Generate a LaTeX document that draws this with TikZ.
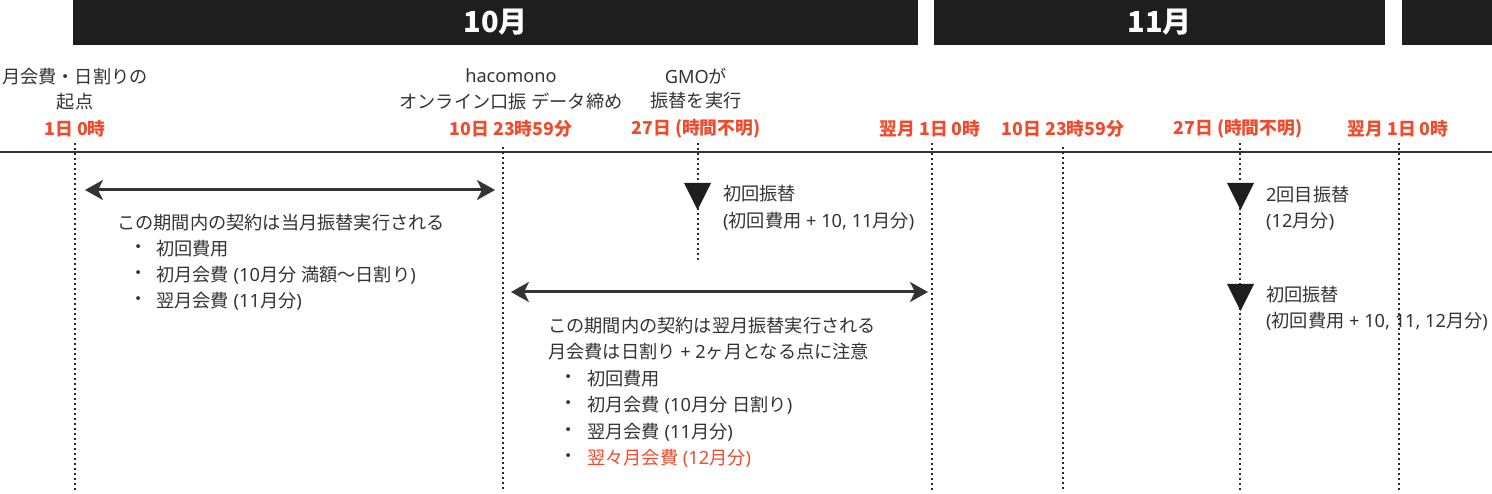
\documentclass[tikz,border=0pt]{standalone}
\usepackage{fontspec}
\setmainfont{Noto Sans CJK JP}
\newfontfamily\cjkf{Noto Sans CJK JP}
\newfontfamily\latf{Noto Sans}
\usetikzlibrary{arrows.meta}
\newXeTeXintercharclass\CJKcls
\makeatletter
\count@="3000
\loop\ifnum\count@<"A000 \XeTeXcharclass\count@=\CJKcls \advance\count@ by 1 \repeat
\count@="FF00
\loop\ifnum\count@<"FFF0 \XeTeXcharclass\count@=\CJKcls \advance\count@ by 1 \repeat
\makeatother
\XeTeXinterchartoks 0 \CJKcls = {\cjkf}
\XeTeXinterchartoks 4095 \CJKcls = {\cjkf}
\XeTeXinterchartoks \CJKcls 0 = {\latf}
\XeTeXinterchartoks \CJKcls 4095 = {\latf}
\newcommand\mixon{\XeTeXinterchartokenstate=1\relax}
\newcommand\lblfont{\fontsize{18.2}{22}\selectfont\latf\mixon}
\definecolor{barc}{HTML}{1E1E1E}
\definecolor{ink}{HTML}{333333}
\definecolor{accent}{HTML}{EE4C2C}
\tikzset{
  lbl/.style={font=\lblfont, text=ink, inner sep=0pt},
  redlbl/.style={font=\fontsize{17.8}{21}\selectfont\bfseries, text=accent, inner sep=0pt},
  monthbar/.style={fill=barc, minimum height=45pt, inner sep=0pt, text=white,
    font=\fontsize{29}{32}\selectfont\bfseries},
  guide/.style={draw=ink!80!black, line width=2pt, dash pattern=on 2pt off 3pt},
  spanarrow/.style={draw=ink, line width=3pt,
    {Stealth[length=18pt,width=20pt,inset=5pt]}-{Stealth[length=18pt,width=20pt,inset=5pt]}},
  marker/.style={fill=barc},
}
\begin{document}
\begin{tikzpicture}[x=1pt,y=-1pt]
\useasboundingbox (0,0) rectangle (1492,494);
% month bars
\node[monthbar, minimum width=845pt] (m10) at (495.5,22.5) {10月};
\node[monthbar, minimum width=451pt] (m11) at (1159.5,22.5) {11月};
\node[monthbar, minimum width=90pt] (m12) at (1447,22.5) {};
% top labels
\node[lbl] (l1a) at (75,77) {月会費・日割りの};
\node[lbl] (l1b) at (75,102) {起点};
\node[redlbl] (r1) at (75,129) {1日 0時};
\node[lbl] (l2a) at (511,76) {hacomono};
\node[lbl] (l2b) at (511,101) {オンライン口振 データ締め};
\node[redlbl] (r2) at (511,129) {10日 23時59分};
\node[lbl] (l3a) at (696,76) {GMOが};
\node[lbl] (l3b) at (696,101) {振替を実行};
\node[redlbl] (r3) at (696,129) {27日 (時間不明)};
\node[redlbl] (r4) at (930,129) {翌月 1日 0時};
\node[redlbl] (r5) at (1063,129) {10日 23時59分};
\node[redlbl] (r6) at (1238,129) {27日 (時間不明)};
\node[redlbl] (r7) at (1398,129) {翌月 1日 0時};
% timeline
\draw[ink, line width=2.5pt] (0,152) -- (1492,152);
% guides
\draw[guide] (75,143) -- (75,490);
\draw[guide] (503,147) -- (503,490);
\draw[guide] (697.5,143) -- (697.5,262);
\draw[guide] (932,143) -- (932,490);
\draw[guide] (1063,147) -- (1063,490);
\draw[guide] (1240,143) -- (1240,490);
\draw[guide] (1399,143) -- (1399,490);
% span arrows
\coordinate (a1s) at (85,190);
\coordinate (a1e) at (495,190);
\draw[spanarrow] (a1s) -- (a1e);
\coordinate (a2s) at (511,292);
\coordinate (a2e) at (928,292);
\draw[spanarrow] (a2s) -- (a2e);
% markers
\fill[marker] (684,183) -- (711,183) -- (697.5,210) -- cycle;
\fill[marker] (1227,183) -- (1254,183) -- (1240.5,210) -- cycle;
\fill[marker] (1227,284) -- (1254,284) -- (1240.5,311) -- cycle;
% marker texts
\node[lbl, anchor=west] (t1a) at (723,194) {初回振替};
\node[lbl, anchor=west] (t1b) at (723,221) {(初回費用 + 10, 11月分)};
\node[lbl, anchor=west] (t2a) at (1266,195) {2回目振替};
\node[lbl, anchor=west] (t2b) at (1266,221) {(12月分)};
\node[lbl, anchor=west] (t3a) at (1266,295) {初回振替};
\node[lbl, anchor=west] (t3b) at (1266,321) {(初回費用 + 10, 11, 12月分)};
% block 1
\node[lbl, anchor=west] (p1h) at (117,223) {この期間内の契約は当月振替実行される};
\node[lbl] (p1b1) at (139,249) {・};
\node[lbl, anchor=west] (p1t1) at (156,249) {初回費用};
\node[lbl] (p1b2) at (139,275) {・};
\node[lbl, anchor=west] (p1t2) at (156,275) {初月会費 (10月分 満額〜日割り)};
\node[lbl] (p1b3) at (139,301) {・};
\node[lbl, anchor=west] (p1t3) at (156,301) {翌月会費 (11月分)};
% block 2
\node[lbl, anchor=west] (p2h) at (548,326) {この期間内の契約は翌月振替実行される};
\node[lbl, anchor=west] (p2h2) at (548,352) {月会費は日割り + 2ヶ月となる点に注意};
\node[lbl] (p2b1) at (569,379) {・};
\node[lbl, anchor=west] (p2t1) at (587,379) {初回費用};
\node[lbl] (p2b2) at (569,405) {・};
\node[lbl, anchor=west] (p2t2) at (587,405) {初月会費 (10月分 日割り)};
\node[lbl] (p2b3) at (569,432) {・};
\node[lbl, anchor=west] (p2t3) at (587,432) {翌月会費 (11月分)};
\node[lbl] (p2b4) at (569,458) {・};
\node[lbl, anchor=west, text=accent] (p2t4) at (587,458) {翌々月会費 (12月分)};
\end{tikzpicture}
\end{document}
